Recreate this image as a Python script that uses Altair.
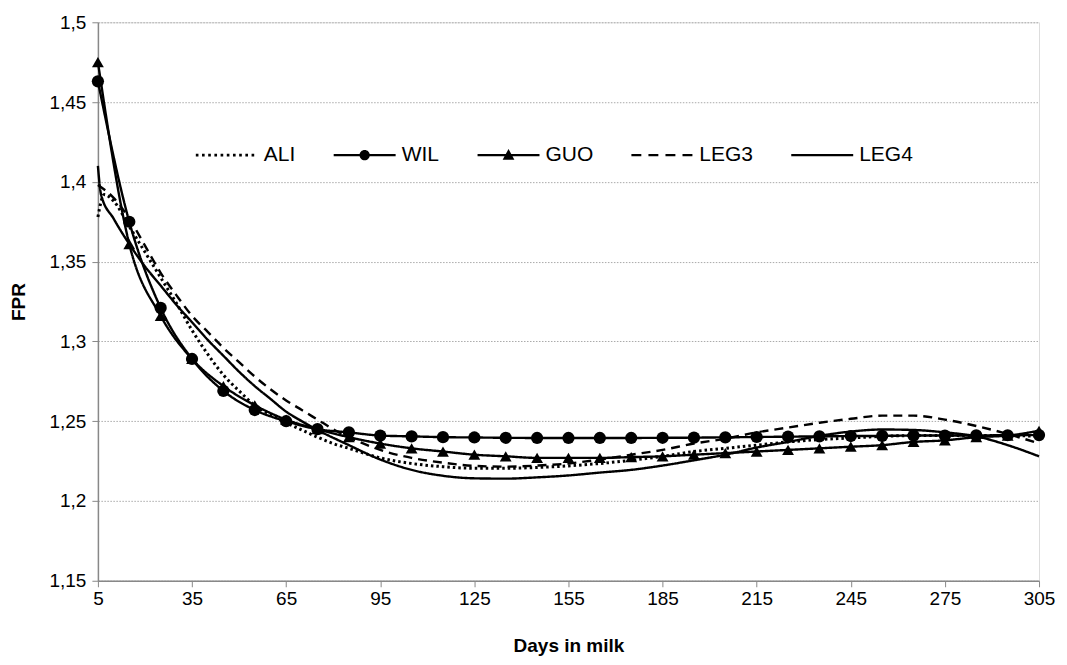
import altair as alt
import pandas as pd

# ---------------- data ----------------
series_names = ["ALI", "WIL", "GUO", "LEG3", "LEG4"]

marker_days = [5, 15, 25, 35, 45, 55, 65, 75, 85, 95, 105, 115, 125, 135, 145, 155,
               165, 175, 185, 195, 205, 215, 225, 235, 245, 255, 265, 275, 285, 295, 305]

wil_vals = [1.463, 1.375, 1.321, 1.289, 1.269, 1.257, 1.250, 1.245, 1.243, 1.241, 1.2405,
            1.240, 1.2398, 1.2396, 1.2395, 1.2395, 1.2395, 1.2395, 1.2396, 1.2397, 1.2399,
            1.2401, 1.2403, 1.2405, 1.2407, 1.2408, 1.241, 1.241, 1.2411, 1.2412, 1.2413]

guo_vals = [1.475, 1.361, 1.316, 1.289, 1.272, 1.260, 1.251, 1.245, 1.240, 1.236, 1.233,
            1.231, 1.229, 1.228, 1.227, 1.227, 1.227, 1.2275, 1.228, 1.229, 1.230, 1.231,
            1.232, 1.233, 1.234, 1.235, 1.237, 1.238, 1.240, 1.241, 1.244]

ali_days = [5, 7, 10, 15, 20, 25, 30, 35, 40, 45, 50, 55, 60, 65, 70, 75, 80, 85, 95, 105,
            115, 125, 135, 145, 155, 165, 175, 185, 195, 205, 215, 225, 235, 245, 255, 265,
            275, 285, 295, 305]
ali_vals = [1.378, 1.392, 1.388, 1.372, 1.356, 1.340, 1.324, 1.307, 1.292, 1.279, 1.269,
            1.260, 1.254, 1.249, 1.2445, 1.240, 1.236, 1.233, 1.227, 1.2235, 1.2215, 1.2205,
            1.2205, 1.221, 1.222, 1.2235, 1.2255, 1.228, 1.231, 1.233, 1.235, 1.237, 1.2385,
            1.2395, 1.2405, 1.241, 1.241, 1.241, 1.241, 1.2405]

leg3_days = [5, 10, 15, 20, 25, 30, 35, 40, 45, 50, 55, 60, 65, 70, 75, 80, 85, 95, 105, 115,
             125, 135, 145, 155, 165, 175, 185, 195, 205, 215, 225, 235, 245, 255, 265, 275,
             285, 295, 305]
leg3_vals = [1.398, 1.390, 1.377, 1.360, 1.343, 1.329, 1.316, 1.306, 1.296, 1.287, 1.278,
             1.270, 1.263, 1.257, 1.251, 1.245, 1.240, 1.232, 1.227, 1.224, 1.222, 1.2215,
             1.2222, 1.2235, 1.226, 1.229, 1.232, 1.236, 1.239, 1.243, 1.246, 1.249, 1.2515,
             1.2535, 1.2535, 1.251, 1.247, 1.242, 1.236]

leg4_days = [5, 6, 10, 15, 20, 25, 30, 35, 40, 45, 50, 55, 60, 65, 70, 75, 85, 95, 105, 115,
             125, 135, 145, 155, 165, 175, 185, 195, 205, 215, 225, 235, 245, 255, 265, 275,
             285, 295, 305]
leg4_vals = [1.410, 1.392, 1.377, 1.361, 1.347, 1.335, 1.323, 1.312, 1.301, 1.291, 1.281,
             1.272, 1.264, 1.256, 1.250, 1.2445, 1.235, 1.226, 1.2195, 1.2158, 1.2142, 1.214,
             1.2148, 1.216, 1.2178, 1.2195, 1.2222, 1.2255, 1.229, 1.2335, 1.237, 1.2408,
             1.2435, 1.2448, 1.2445, 1.243, 1.2405, 1.235, 1.228]

x_ticks = [5, 35, 65, 95, 125, 155, 185, 215, 245, 275, 305]
y_ticks = [1.15, 1.2, 1.25, 1.3, 1.35, 1.4, 1.45, 1.5]

# ---------------- tables ----------------
rows = []
for s, d, v in [("ALI", ali_days, ali_vals), ("WIL", marker_days, wil_vals),
                ("GUO", marker_days, guo_vals), ("LEG3", leg3_days, leg3_vals),
                ("LEG4", leg4_days, leg4_vals)]:
    for dd, vv in zip(d, v):
        rows.append({"series": s, "day": dd, "fpr": vv})
df = pd.DataFrame(rows)

FONT = "Liberation Sans"

# line styles per series
styles = {
    "ALI": {"strokeDash": [2.5, 3], "strokeWidth": 3},
    "WIL": {"strokeDash": [1, 0], "strokeWidth": 2.4},
    "GUO": {"strokeDash": [1, 0], "strokeWidth": 2.4},
    "LEG3": {"strokeDash": [9, 6], "strokeWidth": 2.4},
    "LEG4": {"strokeDash": [1, 0], "strokeWidth": 2.4},
}

# legend symbols (custom filled SVG paths in unit space; 1 unit = 31 px)
def rect(x0, x1, h):
    return f"M{x0:.3f},{-h:.3f}H{x1:.3f}V{h:.3f}H{x0:.3f}Z"

line_p = rect(-1, 1, 0.035)
dots_p = "".join(rect(-1 + i * 0.2, -1 + i * 0.2 + 0.085, 0.043) for i in range(10))
dash_p = "".join(rect(a, b, 0.035) for a, b in [(-1, -0.68), (-0.45, -0.13), (0.1, 0.42), (0.65, 0.97)])
circ_p = line_p + "M0.165,0A0.165,0.165,0,1,1,-0.165,0A0.165,0.165,0,1,1,0.165,0Z"
tri_p = line_p + "M0,-0.2L0.19,0.15L-0.19,0.15Z"
legend_paths = [dots_p, circ_p, tri_p, dash_p, line_p]

x_enc = alt.X("day:Q",
              scale=alt.Scale(domain=[5, 305], nice=False, zero=False),
              axis=alt.Axis(values=x_ticks, title="Days in milk", grid=False,
                            labelFont=FONT, labelFontSize=19, labelColor="black",
                            titleFont=FONT, titleFontSize=19, titleFontWeight="bold",
                            titleColor="black", titlePadding=28,
                            domainColor="#888888", domainWidth=1.5,
                            tickColor="#888888", tickSize=6, tickWidth=1,
                            labelPadding=3, labelFlush=False))
y_enc = alt.Y("fpr:Q",
              scale=alt.Scale(domain=[1.15, 1.5], nice=False, zero=False),
              axis=alt.Axis(values=y_ticks, title="FPR",
                            labelExpr="replace(format(datum.value, '.2~f'), '.', ',')",
                            labelFont=FONT, labelFontSize=19, labelColor="black",
                            titleFont=FONT, titleFontSize=19, titleFontWeight="bold",
                            titleColor="black", titlePadding=21,
                            domainColor="#888888", domainWidth=1.5,
                            tickColor="#888888", tickSize=6, tickWidth=1,
                            labelPadding=6,
                            grid=True, gridColor="#aaaaaa", gridDash=[1.5, 1.5],
                            gridWidth=1))

base = alt.Chart(df)

layers = []
for i, s in enumerate(series_names):
    layer = base.transform_filter(alt.datum.series == s).mark_line(
        color="black", interpolate="monotone", **styles[s])
    if i == 0:
        layer = layer.encode(x=x_enc, y=y_enc)
    else:
        layer = layer.encode(x="day:Q", y="fpr:Q")
    layers.append(layer)

wil_pts = base.transform_filter(alt.datum.series == "WIL").mark_point(
    shape="circle", filled=True, color="black", size=150, opacity=1).encode(x="day:Q", y="fpr:Q")
guo_pts = base.transform_filter(alt.datum.series == "GUO").mark_point(
    shape="triangle-up", filled=True, color="black", size=140, opacity=1).encode(x="day:Q", y="fpr:Q")

legend_layer = base.mark_point(filled=True, color="black", opacity=0).encode(
    x="day:Q", y="fpr:Q",
    shape=alt.Shape("series:N",
                    scale=alt.Scale(domain=series_names, range=legend_paths),
                    legend=alt.Legend(title=None, orient="none", legendX=98, legendY=102,
                                      direction="horizontal", padding=0,
                                      labelFont=FONT, labelFontSize=21, labelColor="black",
                                      symbolSize=3844, symbolStrokeWidth=0,
                                      symbolFillColor="black",
                                      symbolOpacity=1, labelOffset=6, columnPadding=38,
                                      labelLimit=200)),
)

chart = alt.layer(*layers, wil_pts, guo_pts, legend_layer).properties(
    width=942, height=559,
    autosize=alt.AutoSizeParams(type="none"),
    padding={"left": 90, "top": 14, "right": 20, "bottom": 78},
).configure_view(stroke=None).configure(background="white")

chart.save("out.html", embed_options={"renderer": "svg", "actions": False})
